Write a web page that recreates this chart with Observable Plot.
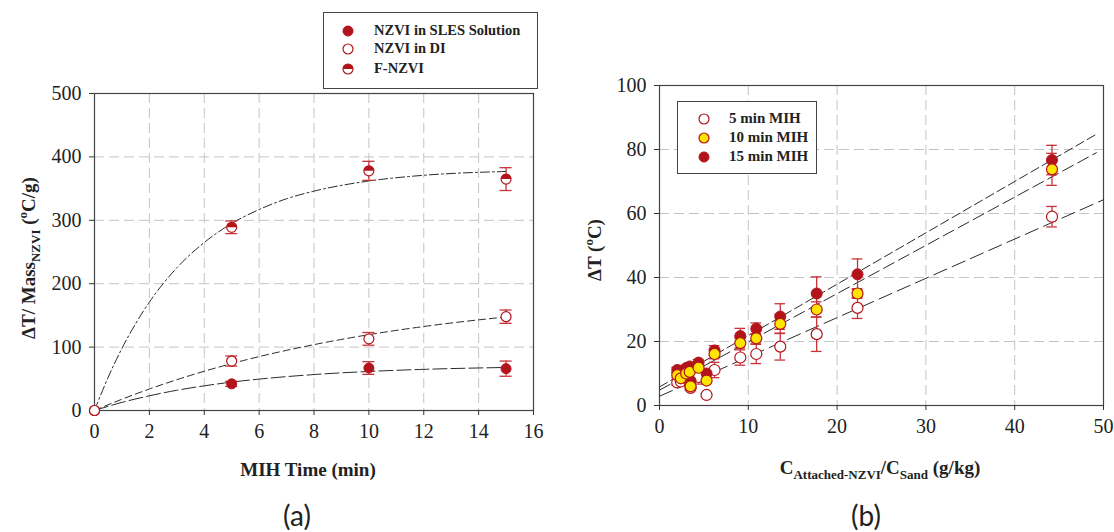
<!DOCTYPE html>
<html>
<head>
<meta charset="utf-8">
<script src="https://cdn.jsdelivr.net/npm/d3@7"></script>
<script src="https://cdn.jsdelivr.net/npm/@observablehq/plot@0.6"></script>
<style>
  html, body { margin: 0; padding: 0; background: #fff; }
  #wrap { position: relative; width: 1114px; height: 532px; overflow: hidden; font-family: "Liberation Serif", serif; color: #222; }
  .abs { position: absolute; }
  .title { font-weight: bold; font-size: 19px; white-space: nowrap; }
  .panel { font-family: Lato, "Open Sans", sans-serif; font-size: 28px; }
  .legend { border: 1.5px solid #444; background: #fff; font-weight: bold; }
  .legend .row { position: absolute; white-space: nowrap; }
</style>
</head>
<body>
<div id="wrap"></div>
<script>
// ---------------- Panel (a) data ----------------
const aTime = [0, 5, 10, 15];
const aSLES = [0, 42, 67, 66];
const aSLESErr = [0, 4, 10, 12];
const aDI = [0, 78, 113, 148];
const aDIErr = [0, 8, 10, 10.5];
const aF = [0, 289, 378, 365];
const aFErr = [0, 10, 15, 18];
// fitted curves
const fitT = [0, 1, 2, 3, 4, 5, 6, 8, 10, 12, 15];
const fitSLES = [0, 12.8, 23.2, 31.9, 38.9, 44.8, 49.5, 56.7, 61.6, 64.9, 67.9];
const fitDI = [0, 17.8, 33.9, 48.6, 61.9, 74, 85, 103.9, 119.6, 132.5, 147.6];
const fitFT = [0, 0.5, 1, 1.5, 2, 3, 4, 5, 6, 7, 8, 10, 12, 15];
const fitF = [0, 52.6, 98, 137, 171, 225, 265, 295, 317, 334, 346, 362, 371, 377];
const aXTicks = [0, 2, 4, 6, 8, 10, 12, 14, 16];
const aYTicks = [0, 100, 200, 300, 400, 500];
const aSeries = ["NZVI in SLES Solution", "NZVI in DI", "F-NZVI"];

// ---------------- Panel (b) data ----------------
const bConc = [2.0, 2.4, 3.0, 3.4, 3.5, 4.4, 5.3, 6.2, 9.1, 10.9, 13.6, 17.7, 22.3, 44.2];
const b5 = [7.2, 7.5, 8.5, 7.0, 5.5, 8.9, 3.3, 11.1, 15.0, 16.1, 18.4, 22.3, 30.5, 59.0];
const b5Err = [0.8, 0.8, 0.8, 0.8, 0.8, 2.2, 0.5, 2.4, 2.4, 3.0, 4.2, 5.4, 3.3, 3.2];
const b10 = [9.5, 8.5, 10.0, 10.5, 6.0, 11.8, 7.8, 16.1, 19.5, 21.0, 25.5, 30.0, 35.0, 73.8];
const b10Err = [0.8, 0.8, 0.8, 0.8, 0.8, 1.5, 0.5, 1.5, 1.5, 1.5, 3.0, 2.4, 1.5, 5.0];
const b15 = [11.1, 9.6, 11.7, 12.2, 7.7, 13.4, 10.0, 17.2, 21.7, 24.0, 27.8, 35.0, 41.0, 76.7];
const b15Err = [0.8, 0.8, 0.8, 0.8, 0.8, 1.0, 0.5, 1.5, 2.4, 1.8, 4.0, 5.2, 4.8, 4.6];
const bFit5X = [0, 50], bFit5Y = [2.9, 64.3];
const bFit10X = [0, 49.2], bFit10Y = [4.8, 79.0];
const bFit15X = [0, 49.4], bFit15Y = [5.8, 85.1];
const bXTicks = [0, 10, 20, 30, 40, 50];
const bYTicks = [0, 20, 40, 60, 80, 100];
const bSeries = ["5 min MIH", "10 min MIH", "15 min MIH"];

// ---------------- styles ----------------
const RED = "#b3141c";
const ERR = "#c8323a";
const YEL = "#ffe400";
const GRID = "#c4c4c4";
const LINE = "#2a2a2a";

const halfTop = {
  draw(ctx, size) {
    const r = Math.sqrt(size / Math.PI);
    ctx.moveTo(-r, 0);
    ctx.arc(0, 0, r, Math.PI, 2 * Math.PI);
    ctx.closePath();
  }
};

const zip = (xs, ys, es) => xs.map((x, i) => ({x, y: ys[i], e: es ? es[i] : 0}));

function errorMarks(data, capHalf) {
  const d = data.filter(p => p.e > 0);
  return [
    Plot.ruleX(d, {x: "x", y1: p => p.y - p.e, y2: p => p.y + p.e, stroke: ERR, strokeWidth: 1.3}),
    Plot.ruleY(d, {y: p => p.y + p.e, x1: p => p.x - capHalf, x2: p => p.x + capHalf, stroke: ERR, strokeWidth: 1.3}),
    Plot.ruleY(d, {y: p => p.y - p.e, x1: p => p.x - capHalf, x2: p => p.x + capHalf, stroke: ERR, strokeWidth: 1.3})
  ];
}

const baseStyle = {fontFamily: "Liberation Serif, serif", fontSize: "20px", color: "#222", background: "transparent", overflow: "visible"};

const wrap = document.getElementById("wrap");

// ---------------- Panel (a) ----------------
const sles = zip(aTime, aSLES, aSLESErr);
const di = zip(aTime, aDI, aDIErr);
const fz = zip(aTime, aF, aFErr);

const plotA = Plot.plot({
  width: 560, height: 440,
  marginLeft: 94, marginRight: 27, marginTop: 93, marginBottom: 30,
  style: baseStyle,
  x: {domain: [0, 16]},
  y: {domain: [0, 500]},
  marks: [
    Plot.gridX(aXTicks.slice(1, -1), {stroke: GRID, strokeOpacity: 1, strokeDasharray: "10,5"}),
    Plot.gridY(aYTicks.slice(1, -1), {stroke: GRID, strokeOpacity: 1, strokeDasharray: "10,5"}),
    Plot.frame({stroke: "#444", strokeWidth: 1.2}),
    Plot.axisX({ticks: aXTicks, tickSize: 5, tickPadding: 8, label: null, stroke: "#333"}),
    Plot.axisY({ticks: aYTicks, tickSize: 5, tickPadding: 8, label: null, stroke: "#333"}),
    Plot.line(zip(fitT, fitSLES), {x: "x", y: "y", stroke: LINE, strokeWidth: 1, strokeDasharray: "14,4", curve: "monotone-x"}),
    Plot.line(zip(fitT, fitDI), {x: "x", y: "y", stroke: LINE, strokeWidth: 1, strokeDasharray: "7,4", curve: "monotone-x"}),
    Plot.line(zip(fitFT, fitF), {x: "x", y: "y", stroke: LINE, strokeWidth: 1, strokeDasharray: "9,3,2,3", curve: "monotone-x"}),
    ...errorMarks(sles, 0.22),
    ...errorMarks(di, 0.22),
    ...errorMarks(fz, 0.22),
    Plot.dot(sles, {x: "x", y: "y", r: 5, fill: RED, stroke: RED, strokeWidth: 1}),
    Plot.dot(fz, {x: "x", y: "y", r: 5, fill: "#fff", stroke: RED, strokeWidth: 1.2}),
    Plot.dot(fz, {x: "x", y: "y", r: 5, symbol: halfTop, fill: RED, stroke: "none"}),
    Plot.dot(di, {x: "x", y: "y", r: 5, fill: "#fff", stroke: RED, strokeWidth: 1.2})
  ]
});
plotA.style.position = "absolute";
plotA.style.left = "0px";
plotA.style.top = "0px";
wrap.appendChild(plotA);

// ---------------- Panel (b) ----------------
const s5 = zip(bConc, b5, b5Err);
const s10 = zip(bConc, b10, b10Err);
const s15 = zip(bConc, b15, b15Err);

const plotB = Plot.plot({
  width: 554, height: 440,
  marginLeft: 99, marginRight: 11, marginTop: 85, marginBottom: 35,
  style: baseStyle,
  x: {domain: [0, 50]},
  y: {domain: [0, 100]},
  marks: [
    Plot.gridX(bXTicks.slice(1, -1), {stroke: GRID, strokeOpacity: 1, strokeDasharray: "10,5"}),
    Plot.gridY(bYTicks.slice(1, -1), {stroke: GRID, strokeOpacity: 1, strokeDasharray: "10,5"}),
    Plot.frame({stroke: "#444", strokeWidth: 1.2}),
    Plot.axisX({ticks: bXTicks, tickSize: 5, tickPadding: 8, label: null, stroke: "#333"}),
    Plot.axisY({ticks: bYTicks, tickSize: 5, tickPadding: 8, label: null, stroke: "#333"}),
    Plot.line(zip(bFit5X, bFit5Y), {x: "x", y: "y", stroke: LINE, strokeWidth: 1, strokeDasharray: "14,6"}),
    Plot.line(zip(bFit10X, bFit10Y), {x: "x", y: "y", stroke: LINE, strokeWidth: 1, strokeDasharray: "12,5"}),
    Plot.line(zip(bFit15X, bFit15Y), {x: "x", y: "y", stroke: LINE, strokeWidth: 1, strokeDasharray: "9,4"}),
    ...errorMarks(s5, 0.6),
    ...errorMarks(s15, 0.6),
    ...errorMarks(s10, 0.6),
    Plot.dot(s5, {x: "x", y: "y", r: 5.5, fill: "#fff", stroke: RED, strokeWidth: 1.2}),
    Plot.dot(s15, {x: "x", y: "y", r: 5.5, fill: RED, stroke: RED, strokeWidth: 1}),
    Plot.dot(s10, {x: "x", y: "y", r: 5.5, fill: YEL, stroke: RED, strokeWidth: 1.2})
  ]
});
plotB.style.position = "absolute";
plotB.style.left = "560px";
plotB.style.top = "0px";
wrap.appendChild(plotB);

// ---------------- HTML text: titles, legends, panel labels ----------------
function addDiv(html, css, cls) {
  const d = document.createElement("div");
  d.className = "abs " + (cls || "");
  d.innerHTML = html;
  Object.assign(d.style, css);
  wrap.appendChild(d);
  return d;
}

// axis titles (a)
addDiv("MIH Time (min)", {left: "308px", top: "470px", transform: "translate(-50%,-50%)"}, "title");
addDiv("&Delta;T/ Mass<sub style='font-size:13px;vertical-align:-5px'>NZVI</sub> (<sup style='font-size:13px;vertical-align:8px'>o</sup>C/g)",
  {left: "29px", top: "258px", transform: "translate(-50%,-50%) rotate(-90deg)"}, "title");
// axis titles (b)
addDiv("C<sub style='font-size:13px;vertical-align:-5px'>Attached-NZVI</sub>/C<sub style='font-size:13px;vertical-align:-5px'>Sand</sub> (g/kg)",
  {left: "880px", top: "470px", transform: "translate(-50%,-50%)"}, "title");
addDiv("&Delta;T (<sup style='font-size:13px;vertical-align:8px'>o</sup>C)",
  {left: "593px", top: "250px", transform: "translate(-50%,-50%) rotate(-90deg)"}, "title");

// panel labels
addDiv("(a)", {left: "297px", top: "515px", transform: "translate(-50%,-50%)"}, "panel");
addDiv("(b)", {left: "866px", top: "515px", transform: "translate(-50%,-50%)"}, "panel");

// legend helper: markers as small svgs
function markerSVG(kind) {
  const r = 5;
  let inner = "";
  if (kind === "filled") inner = `<circle cx="7" cy="7" r="${r}" fill="${RED}" stroke="${RED}"/>`;
  else if (kind === "open") inner = `<circle cx="7" cy="7" r="${r}" fill="#fff" stroke="${RED}" stroke-width="1.2"/>`;
  else if (kind === "half") inner = `<circle cx="7" cy="7" r="${r}" fill="#fff" stroke="${RED}" stroke-width="1.2"/><path d="M2,7 A5,5 0 0 1 12,7 Z" fill="${RED}"/>`;
  else if (kind === "yellow") inner = `<circle cx="7" cy="7" r="${r}" fill="${YEL}" stroke="${RED}" stroke-width="1.2"/>`;
  return `<svg width="14" height="14" style="position:absolute;left:-7px;top:-7px">${inner}</svg>`;
}

// legend (a)
const legA = addDiv("", {left: "323px", top: "12px", width: "213px", height: "75px", fontSize: "14.5px"}, "legend");
const kindsA = ["filled", "open", "half"];
const rowsA = [18, 36, 56];
aSeries.forEach((name, i) => {
  const m = document.createElement("div");
  m.className = "row"; m.style.left = "24px"; m.style.top = rowsA[i] + "px";
  m.innerHTML = markerSVG(kindsA[i]);
  legA.appendChild(m);
  const t = document.createElement("div");
  t.className = "row"; t.style.left = "50px"; t.style.top = (rowsA[i] - 9) + "px";
  t.textContent = name;
  legA.appendChild(t);
});

// legend (b)
const legB = addDiv("", {left: "677px", top: "101px", width: "138px", height: "71px", fontSize: "15px"}, "legend");
const kindsB = ["open", "yellow", "filled"];
const rowsB = [17, 36, 55];
bSeries.forEach((name, i) => {
  const m = document.createElement("div");
  m.className = "row"; m.style.left = "26px"; m.style.top = rowsB[i] + "px";
  m.innerHTML = markerSVG(kindsB[i]);
  legB.appendChild(m);
  const t = document.createElement("div");
  t.className = "row"; t.style.left = "51px"; t.style.top = (rowsB[i] - 9.5) + "px";
  t.textContent = name;
  legB.appendChild(t);
});
</script>
</body>
</html>
